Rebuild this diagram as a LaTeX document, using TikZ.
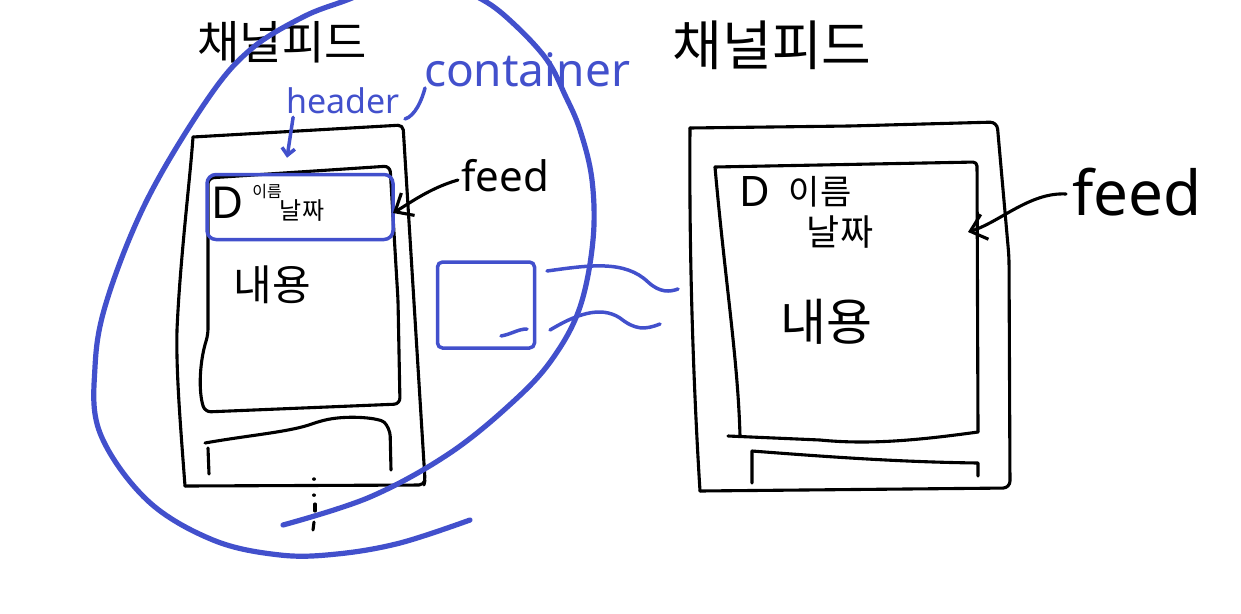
\documentclass[tikz,border=0pt]{standalone}
\usepackage{fontspec}
\setmainfont{Noto Sans}
\newfontfamily\kr{Noto Sans CJK KR}
\usetikzlibrary{arrows.meta}
\definecolor{penblue}{RGB}{66,80,204}
\begin{document}
\begin{tikzpicture}[x=1pt,y=-1pt,
  ink/.style={line width=3.1pt, line cap=round, line join=round},
  blueink/.style={ink, draw=penblue, line width=3.5pt},
  bigblue/.style={ink, draw=penblue, line width=5.2pt},
  barb/.style={-{Straight Barb[length=15pt,width=26pt]}},
  smallbarb/.style={-{Straight Barb[length=7pt,width=13pt]}},
  lbl/.style={inner sep=0pt, text=black},
  bluelbl/.style={inner sep=0pt, text=penblue}]
\useasboundingbox (0,0) rectangle (1241,613);
\clip (0,0) rectangle (1241,613);

% ---------- left phone ----------
\draw[ink, rounded corners=5pt] (193,137) -- (403,125) -- (425,480) -- (424,485) -- (185,486);
\draw[ink] (185,486) .. controls (180,420) and (176,370) .. (177,330) .. controls (180,260) and (190,180) .. (193,137);
% inner screen
\draw[ink, rounded corners=6pt] (208,178) -- (390,166) -- (398,300) -- (400,404) -- (205,412)
  .. controls (198,390) and (200,360) .. (208,335) -- cycle;
% bottom bar
\draw[ink, rounded corners=8pt] (205,443) .. controls (250,435) and (290,432) .. (320,421)
  .. controls (350,415) and (380,418) .. (390,428) -- (391,470);
\draw[ink] (208,448) -- (209,474);
% dotted tail
\draw[ink, line width=3.4pt, dash pattern=on 0.1pt off 16pt] (314,479) -- (314,500);
\draw[ink] (315,504) -- (315,511);
\draw[ink] (314,522) -- (313,530);

% ---------- right phone ----------
\draw[ink, rounded corners=7pt] (690,128) -- (850,126) -- (997,122) -- (1009,257) -- (1010,488) -- (700,491);
\draw[ink] (700,491) .. controls (693,380) and (689,250) .. (690,128);
% inner screen
\draw[ink, rounded corners=4pt] (715,167) -- (977,162) -- (978,432);
\draw[ink] (715,167) .. controls (725,280) and (738,360) .. (740,436);
\draw[ink] (728,436) -- (820,440) .. controls (870,445) and (920,440) .. (978,432);
% bottom bar
\draw[ink] (752,483) -- (752,451) .. controls (830,457) and (900,462) .. (978,463) -- (978,476);

% ---------- texts ----------
\node[lbl, font=\kr\fontsize{46}{50}\selectfont] (titleL) at (282,42) {채널피드};
\node[lbl, font=\kr\fontsize{54}{58}\selectfont] (titleR) at (772,45) {채널피드};
\node[bluelbl, font=\fontsize{46}{50}\selectfont] (container) at (527,70) {container};
\node[bluelbl, font=\fontsize{34}{38}\selectfont] (header) at (343,101) {header};
\node[lbl, font=\fontsize{42}{46}\selectfont] (feedL) at (505,176) {feed};
\node[lbl, font=\fontsize{62}{66}\selectfont] (feedR) at (1137,192) {feed};

% left header contents
\node[lbl, font=\fontsize{44}{48}\selectfont] (dL) at (228,203) {D};
\node[lbl, font=\kr\fontsize{16}{18}\selectfont] (nameL) at (267,192) {이름};
\node[lbl, font=\kr\fontsize{24}{26}\selectfont] (dateL) at (302,211) {날짜};
\node[lbl, font=\kr\fontsize{42}{46}\selectfont] (bodyL) at (272,285) {내용};

% right contents
\node[lbl, font=\fontsize{42}{46}\selectfont] (dR) at (755,192) {D};
\node[lbl, font=\kr\fontsize{34}{38}\selectfont] (nameR) at (820,192) {이름};
\node[lbl, font=\kr\fontsize{36}{40}\selectfont] (dateR) at (840,232) {날짜};
\node[lbl, font=\kr\fontsize{50}{54}\selectfont] (bodyR) at (826,322) {내용};

% ---------- blue items ----------
\node[draw=penblue, line width=3.5pt, rounded corners=9pt, minimum width=186pt, minimum height=65pt, inner sep=0pt] (hbox) at (300,207) {};
\draw[blueink] (405,119) .. controls (415,116) and (422,100) .. (425,88);
\draw[blueink, smallbarb] ([xshift=7pt,yshift=-3pt]header.south west) -- ([xshift=-13pt,yshift=15pt]hbox.north);

\node[draw=penblue, line width=3.5pt, rounded corners=5pt, minimum width=97pt, minimum height=86pt, inner sep=0pt] (sbox) at (486,305) {};
\draw[blueink] (501,336) .. controls (512,334) and (518,329) .. (527,329);

\coordinate (w1s) at (547,271);
\coordinate (w1e) at (678,289);
\coordinate (w2s) at (550,330);
\coordinate (w2e) at (660,324);
\draw[blueink] (w1s) .. controls (590,265) and (625,260) .. (648,282) .. controls (660,293) and (670,292) .. (w1e);
\draw[blueink] (w2s) .. controls (575,315) and (600,305) .. (620,318) .. controls (635,330) and (645,330) .. (w2e);

% big container loop
\draw[bigblue] plot[smooth, tension=0.6] coordinates {
 (283,525) (370,497) (450,453) (515,400) (553,358) (580,307) (593,240) (592,180) (580,130)
 (565,95) (547,60) (515,25) (483,0) (440,-17) (395,-18) (347,0) (303,17) (250,50) (207,100)
 (147,200) (107,300) (95,367) (100,433) (147,500) (213,540) (280,555) (337,554) (400,543) (470,520)};

% ---------- feed arrows ----------
\coordinate (feedLtip) at (393,213);
\coordinate (feedRtip) at (968,232);
\draw[ink, barb] ([xshift=-3pt,yshift=-4pt]feedL.west) .. controls (430,188) and (410,203) .. (feedLtip);
\draw[ink, barb] ([xshift=-6pt,yshift=-2pt]feedR.west) .. controls (1030,192) and (1000,222) .. (feedRtip);
\end{tikzpicture}
\end{document}
